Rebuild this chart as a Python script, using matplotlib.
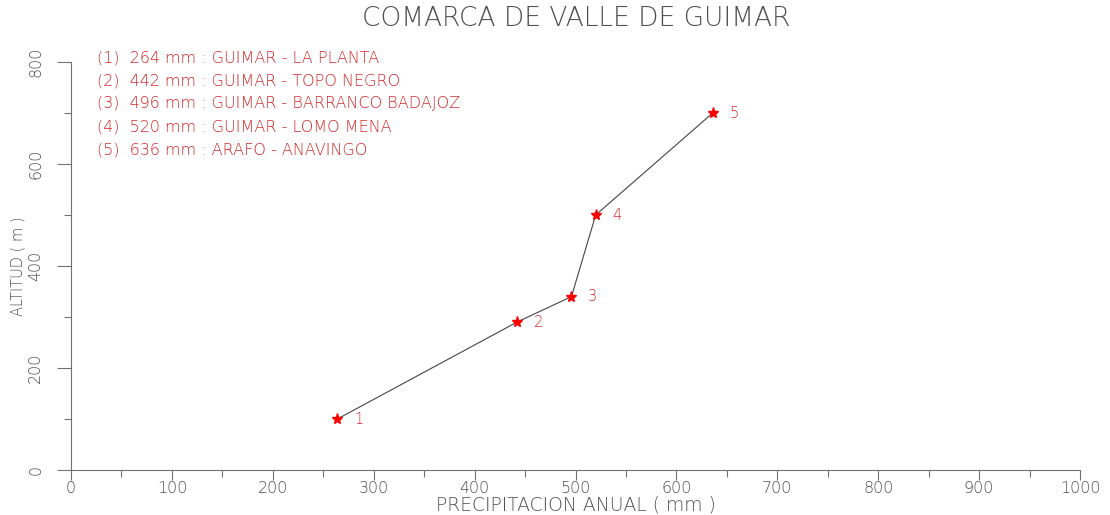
"""
Precipitacion anual frente a altitud - Comarca de Valle de Guimar
"""

import matplotlib
matplotlib.use("Agg")
import matplotlib.pyplot as plt
from matplotlib.ticker import MultipleLocator

# Datos de las estaciones
precipitacion = [264, 442, 496, 520, 636]   # mm
altitud = [100, 290, 340, 500, 700]         # m
estaciones = ['GUIMAR - LA PLANTA', 'GUIMAR - TOPO NEGRO',
              'GUIMAR - BARRANCO BADAJOZ', 'GUIMAR - LOMO MENA',
              'ARAFO - ANAVINGO']
numeros = ['1', '2', '3', '4', '5']

x_ticks = list(range(0, 1001, 100))
y_ticks = list(range(0, 801, 200))

GRIS = '#505050'
ROJO = '#d42a2a'

plt.rcParams['font.family'] = ['DejaVu Sans']
plt.rcParams['font.weight'] = 'light'
plt.rcParams['axes.labelweight'] = 'light'

fig = plt.figure(figsize=(11.1, 5.15), dpi=100)
ax = fig.add_axes([71 / 1110, 1 - 470 / 515, 1009 / 1110, 408 / 515])

# Linea y estrellas
ax.plot(precipitacion, altitud, color='#444444', lw=0.8, zorder=2)
ax.plot(precipitacion, altitud, linestyle='none', marker='*', markersize=8,
        color='red', markeredgecolor='red', zorder=3)

for x, y, n in zip(precipitacion, altitud, numeros):
    ax.annotate(n, (x, y), textcoords='offset points', xytext=(12, 0),
                ha='left', va='center', fontsize=10.5, color=ROJO)

# Leyenda de estaciones
for i, (p, nombre) in enumerate(zip(precipitacion, estaciones)):
    texto = f"({i + 1})  {p} mm : {nombre}"
    ax.text(0.026, 1.01 - i * 0.0564, texto, transform=ax.transAxes,
            ha='left', va='center', fontsize=11.5, color=ROJO)

# Ejes
ax.set_xlim(0, 1000)
ax.set_ylim(0, 800)
ax.set_xticks(x_ticks)
ax.set_yticks(y_ticks)
ax.xaxis.set_minor_locator(MultipleLocator(50))
ax.yaxis.set_minor_locator(MultipleLocator(100))
ax.set_yticklabels([str(v) for v in y_ticks], rotation=90, va='center')

for side in ('top', 'right'):
    ax.spines[side].set_visible(False)
for side in ('left', 'bottom'):
    ax.spines[side].set_color('#707070')
    ax.spines[side].set_linewidth(0.8)

ax.tick_params(which='major', direction='out', width=0.8,
               color='#707070', labelsize=11.5, labelcolor=GRIS)
ax.tick_params(which='minor', direction='out', width=0.8, color='#707070')
ax.tick_params(axis='x', which='major', length=7, pad=1)
ax.tick_params(axis='x', which='minor', length=5)
ax.tick_params(axis='y', which='major', length=10, pad=10)
ax.tick_params(axis='y', which='minor', length=5)

ax.set_xlabel('PRECIPITACION ANUAL ( mm )', fontsize=13.5, color=GRIS)
ax.xaxis.label.set_va('center')
ax.xaxis.set_label_coords(0.5, -(505 - 470) / 408)
ax.set_ylabel('ALTITUD ( m )', fontsize=10.5, color=GRIS)
ax.yaxis.label.set_va('center')
ax.yaxis.set_label_coords(-(71 - 18) / 1009, 0.5)

fig.text(576 / 1110, 1 - 18 / 515, 'COMARCA DE VALLE DE GUIMAR',
         ha='center', va='center', fontsize=19, color=GRIS)

fig.savefig('out.png', dpi=100)
plt.close(fig)
